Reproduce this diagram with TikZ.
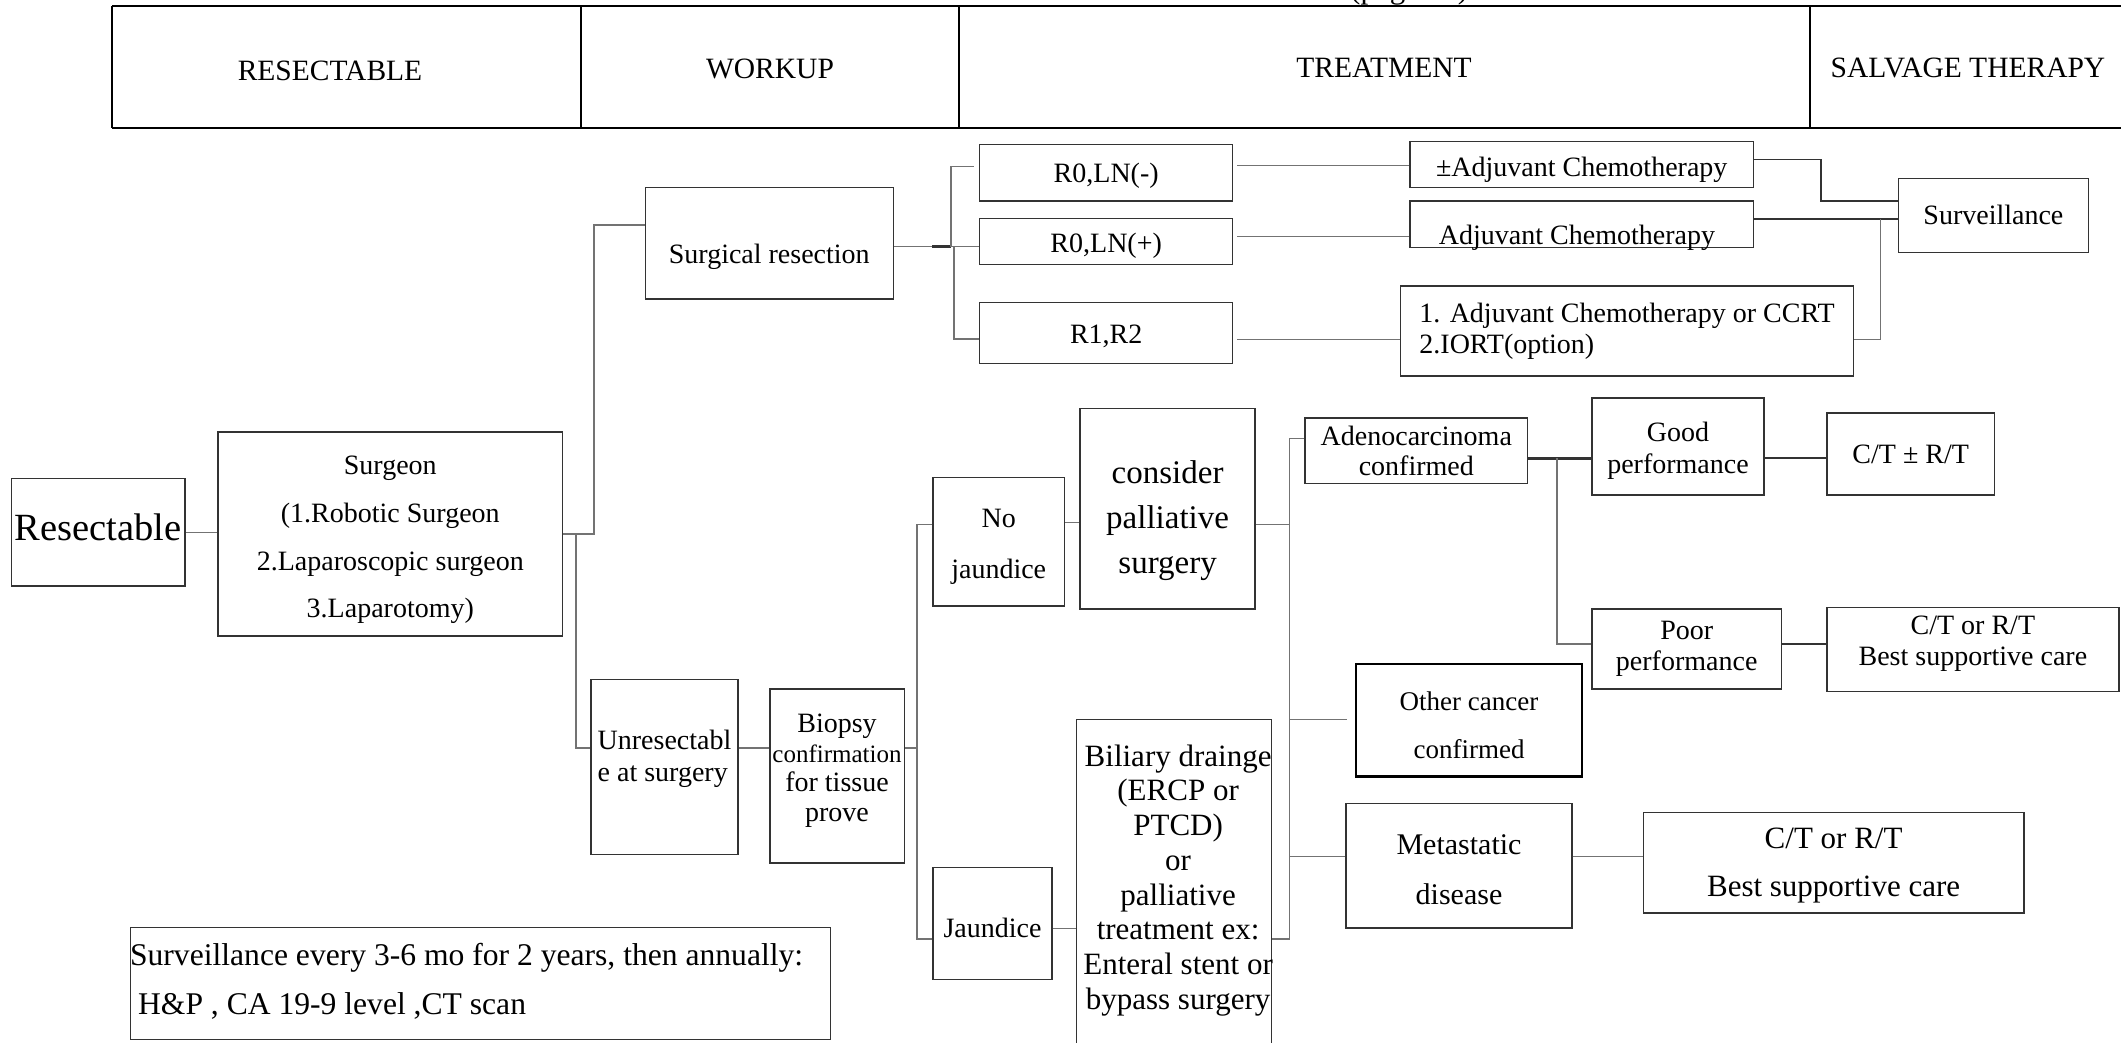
\documentclass[tikz,border=0pt]{standalone}
\usepackage{fontspec}
\setmainfont{Liberation Serif}
\newcommand\myfs[2]{\fontsize{#1pt}{#2pt}\selectfont}
\tikzset{
  box/.style={draw=black!80, line width=1.5pt, inner sep=0pt, align=center, font=\myfs{28}{31}},
  lbl/.style={inner sep=0pt, align=center, font=\myfs{28}{31}},
  conn/.style={draw=black!55, line width=1.5pt},
  hdr/.style={draw=black, line width=2.6pt},
  htxt/.style={font=\myfs{29.5}{32}, anchor=base, inner sep=0pt},
}
\begin{document}
\begin{tikzpicture}[x=1pt,y=-1pt]
\useasboundingbox[fill=white] (0,0) rectangle (2121,1043);

% header table
\draw[hdr] (112,6) -- (2125,6);
\draw[hdr] (112,128) -- (2125,128);
\draw[hdr] (112,6) -- (112,128);
\draw[hdr] (581,6) -- (581,128);
\draw[hdr] (959,6) -- (959,128);
\draw[hdr] (1810,6) -- (1810,128);
\node[htxt] (h1) at (330,81) {RESECTABLE};
\node[htxt] (h2) at (770,78.5) {WORKUP};
\node[htxt] (h3) at (1384,78) {TREATMENT};
\node[htxt] (h4) at (1968,78) {SALVAGE THERAPY};
\node[font=\myfs{31}{34}, anchor=base west, inner sep=0pt] (pg) at (1350,-1.5) {(page 10)};

% left part
\node[box, minimum width=173.5pt, minimum height=107.5pt,
  label={[lbl, font=\myfs{38.5}{40}, yshift=5pt]center:Resectable}] (res) at (98.3,532.3) {};
\node[box, minimum width=344.5pt, minimum height=204pt,
  label={[lbl, font=\myfs{28}{47.6}, yshift=-6pt]center:{Surgeon\\(1.Robotic Surgeon\\2.Laparoscopic surgeon\\3.Laparotomy)}}] (surg) at (390.3,534) {};
\node[box, minimum width=147pt, minimum height=175pt,
  label={[lbl, align=left, font=\myfs{28}{32.5}, yshift=8pt]center:{Unresectabl\\e at surgery}}] (unres) at (664.5,766.9) {};
\node[box, minimum width=134.5pt, minimum height=174pt,
  label={[lbl, font=\myfs{28}{29.5}, yshift=5.5pt]center:{Biopsy\\{\myfs{25}{29.5}confirmation}\\for tissue\\prove}}] (biopsy) at (837,776) {};
\node[box, minimum width=131.4pt, minimum height=128.5pt,
  label={[lbl, font=\myfs{28}{51.6}, yshift=-5pt]center:{No\\jaundice}}] (nojaun) at (998.7,541.8) {};
\node[box, minimum width=119pt, minimum height=112pt,
  label={[lbl, yshift=-4pt]center:Jaundice}] (jaun) at (992.5,923.5) {};
\node[box, minimum width=175.2pt, minimum height=200.5pt,
  label={[lbl, font=\myfs{33}{45}, yshift=-12.5pt]center:{consider\\palliative\\surgery}}] (consider) at (1167.6,508.5) {};
\node[box, minimum width=195.2pt, minimum height=340.5pt,
  label={[lbl, font=\myfs{31}{34.7}, yshift=9.5pt, xshift=4pt]center:{Biliary drainge\\(ERCP or\\PTCD)\\or\\palliative\\treatment ex:\\Enteral stent or\\bypass surgery}}] (biliary) at (1174.1,889.75) {};
\node[box, minimum width=222.6pt, minimum height=65.6pt, font=\myfs{28}{30.7}] (adeno) at (1416.3,450.8) {Adenocarcinoma\\confirmed};
\node[box, minimum width=172pt, minimum height=97.2pt,
  label={[lbl, font=\myfs{28}{31.8}, yshift=-4pt]center:{Good\\performance}}] (good) at (1678,446.4) {};
\node[box, minimum width=167.4pt, minimum height=82pt] (ct1) at (1910.7,454) {C/T ± R/T};
\node[box, minimum width=189.4pt, minimum height=80.2pt, font=\myfs{28}{31.7}] (poor) at (1686.7,648.9) {Poor\\performance};
\node[box, minimum width=291.8pt, minimum height=83.7pt,
  label={[lbl, font=\myfs{28}{30.8}, yshift=6pt]center:{C/T or R/T\\Best supportive care}}] (ct2) at (1972.9,649.4) {};
\node[box, draw=black, line width=2.6pt, minimum width=226pt, minimum height=112.6pt,
  label={[lbl, font=\myfs{27}{48}, yshift=-5pt]center:{Other cancer\\confirmed}}] (other) at (1469,720.3) {};
\node[box, minimum width=226pt, minimum height=124.7pt,
  label={[lbl, font=\myfs{30}{50.8}, yshift=-4pt]center:{Metastatic\\disease}}] (meta) at (1459,865.7) {};
\node[box, minimum width=380.3pt, minimum height=100.2pt,
  label={[lbl, font=\myfs{31}{48}, yshift=-3pt]center:{C/T or R/T\\Best supportive care}}] (ct3) at (1833.6,862.7) {};
\node[box, minimum width=699.7pt, minimum height=112pt,
  label={[lbl, align=left, anchor=west, font=\myfs{31.6}{49}, yshift=2pt]west:{Surveillance every 3-6 mo for 2 years, then annually:\\\hspace*{8pt}H\&P , CA 19-9 level ,CT scan}}] (note) at (480.5,983.6) {};

% top part
\node[box, minimum width=248.1pt, minimum height=111.3pt,
  label={[lbl, yshift=-13.5pt]center:Surgical resection}] (surgres) at (769.3,243.3) {};
\node[box, minimum width=253pt, minimum height=56.7pt,
  label={[lbl, yshift=-3pt]center:{R0,LN(-)}}] (r0n) at (1106.2,172.7) {};
\node[box, minimum width=253pt, minimum height=45.6pt,
  label={[lbl, yshift=-4pt]center:{R0,LN(+)}}] (r0p) at (1106.2,241.5) {};
\node[box, minimum width=253pt, minimum height=60.6pt,
  label={[lbl, yshift=-3pt]center:{R1,R2}}] (r12) at (1106.2,333) {};
\node[box, minimum width=343.7pt, minimum height=46pt,
  label={[lbl, yshift=-5pt]center:±Adjuvant Chemotherapy}] (adj1) at (1581.7,164.7) {};
\node[box, minimum width=343.7pt, minimum height=46.7pt,
  label={[lbl, yshift=-13.6pt, xshift=-4.7pt]center:Adjuvant Chemotherapy}] (adj2) at (1581.7,224.4) {};
\node[box, minimum width=453.3pt, minimum height=90pt, align=left] (adj3) at (1627,331) {1. Adjuvant Chemotherapy or CCRT\\2.IORT(option)};
\node[box, minimum width=190.1pt, minimum height=74pt] (surv) at (1993.4,215.3) {Surveillance};

% junction coordinates
\coordinate (sA) at (594,225);
\coordinate (sB) at (576,748);
\coordinate (bA) at (917,524.6);
\coordinate (bB) at (917,939);
\coordinate (cA) at (1289.5,438.4);
\coordinate (cB) at (1289.5,939);
\coordinate (aA) at (1557,643.8);
\coordinate (rA) at (951,246.7);
\coordinate (rB) at (951,166.7);
\coordinate (rC) at (954,339);
\coordinate (vA) at (1821,159.3);
\coordinate (vB) at (1880.7,219);

% connectors: left
\draw[conn] (res.east) -- (surg.west |- res.east);
\draw[conn] (surg.east) -| (sA) -- (surgres.west |- sA);
\draw[conn] (surg.east -| sB) -- (sB) -- (unres.west |- sB);
\draw[conn] (unres.east |- sB) -- (biopsy.west |- sB);
\draw[conn] (biopsy.east |- sB) -- (sB -| bA);
\draw[conn] (nojaun.west |- bA) -- (bA) -- (bB) -- (jaun.west |- bB);
\draw[conn] (nojaun.east |- 0,522.5) -- (consider.west |- 0,522.5);
\draw[conn] (jaun.east |- 0,928.4) -- (biliary.west |- 0,928.4);
\draw[conn] (consider.east |- 0,524.6) -- (cA |- 0,524.6);
\draw[conn] (adeno.west |- cA) -- (cA) -- (cB) -- (biliary.east |- cB);
\draw[conn, shorten >=8pt] (cA |- 0,719.5) -- (other.west |- 0,719.5);
\draw[conn] (cA |- 0,856.5) -- (meta.west |- 0,856.5);
\draw[conn, draw=black!80, line width=2.6pt] (adeno.east |- 0,458.2) -- (good.west |- 0,458.2);
\draw[conn] (aA |- 0,458.2) -- (aA) -- (poor.west |- aA);
\draw[conn, draw=black!80, line width=2pt] (good.east |- 0,458.2) -- (ct1.west |- 0,458.2);
\draw[conn, draw=black!80, line width=2pt] (poor.east |- 0,644.3) -- (ct2.west |- 0,644.3);
\draw[conn] (meta.east |- 0,856.5) -- (ct3.west |- 0,856.5);

% connectors: top
\draw[conn] (surgres.east |- rA) -- (r0p.west |- rA);
\draw[conn, draw=black!80, line width=2.6pt] (932,246.7) -- (rA);
\draw[conn, shorten >=5pt] (rA) -- (rB) -- (r0n.west |- rB);
\draw[conn] (rC |- rA) -- (rC) -- (r12.west |- rC);
\draw[conn, shorten <=4pt] (r0n.east |- 0,165.7) -- (adj1.west |- 0,165.7);
\draw[conn, shorten <=4pt] (r0p.east |- 0,236.7) -- (adj2.west |- 0,236.7);
\draw[conn, shorten <=4pt] (r12.east |- 0,339.3) -- (adj3.west |- 0,339.3);
\draw[conn, draw=black!80] (adj1.east |- vA) -- (vA) |- (surv.west |- 0,201);
\draw[conn, draw=black!80] (adj2.east |- vB) -- (surv.west |- vB);
\draw[conn] (adj3.east |- 0,339.3) -| (vB);
\end{tikzpicture}
\end{document}
